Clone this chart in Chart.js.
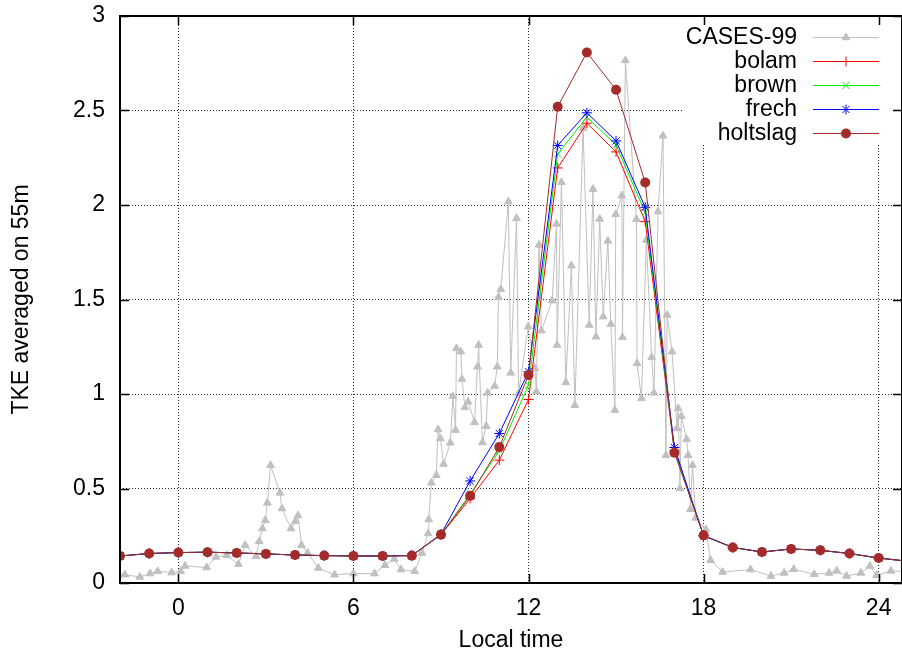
<!DOCTYPE html>
<html>
<head>
<meta charset="utf-8">
<script src="https://cdn.jsdelivr.net/npm/chart.js@4"></script>
<style>
  html, body { margin: 0; padding: 0; background: #fff; overflow: hidden; }
</style>
</head>
<body>
<canvas id="chart" width="902" height="658"></canvas>
<script>
// model output, one value per hour
const hours = [-2, -1, 0, 1, 2, 3, 4, 5, 6, 7, 8, 9, 10, 11, 12, 13, 14, 15, 16, 17, 18, 19, 20, 21, 22, 23, 24, 25]
const bolam = [0.143, 0.156, 0.161, 0.163, 0.159, 0.154, 0.148, 0.145, 0.143, 0.143, 0.145, 0.255, 0.447, 0.650, 0.971, 2.196, 2.433, 2.281, 1.912, 0.700, 0.250, 0.188, 0.164, 0.180, 0.173, 0.156, 0.132, 0.115]
const brown = [0.143, 0.156, 0.161, 0.163, 0.159, 0.154, 0.148, 0.145, 0.143, 0.143, 0.145, 0.256, 0.470, 0.700, 1.047, 2.270, 2.465, 2.318, 1.960, 0.705, 0.250, 0.188, 0.164, 0.180, 0.173, 0.156, 0.132, 0.115]
const frech = [0.143, 0.156, 0.161, 0.163, 0.159, 0.154, 0.148, 0.145, 0.143, 0.143, 0.145, 0.258, 0.540, 0.791, 1.118, 2.315, 2.488, 2.339, 1.988, 0.717, 0.250, 0.188, 0.164, 0.180, 0.173, 0.156, 0.132, 0.115]
const holtslag = [0.143, 0.156, 0.161, 0.163, 0.159, 0.154, 0.148, 0.145, 0.143, 0.143, 0.145, 0.256, 0.461, 0.719, 1.100, 2.520, 2.807, 2.610, 2.119, 0.689, 0.252, 0.188, 0.164, 0.180, 0.173, 0.156, 0.132, 0.115]

// CASES-99 observations
const casesTime = [-2.2, -1.83, -1.32, -0.97, -0.71, -0.23, 0.08, 0.23, 0.97, 1.29, 1.66, 2.06, 2.29, 2.66, 2.77, 2.88, 2.98, 3.05, 3.16, 3.48, 3.55, 3.86, 4.01, 4.10, 4.22, 4.43, 4.80, 5.35, 6.00, 6.72, 7.08, 7.40, 7.63, 8.10, 8.35, 8.56, 8.58, 8.67, 8.84, 8.90, 8.98, 9.09, 9.32, 9.41, 9.50, 9.53, 9.68, 9.72, 9.82, 9.93, 10.15, 10.25, 10.29, 10.42, 10.55, 10.60, 10.84, 10.93, 10.97, 11.05, 11.31, 11.39, 11.59, 11.66, 11.99, 12.22, 12.27, 12.36, 12.44, 12.81, 12.96, 12.98, 13.13, 13.28, 13.47, 13.59, 13.87, 14.08, 14.21, 14.31, 14.44, 14.56, 14.72, 14.82, 14.96, 14.99, 15.20, 15.22, 15.32, 15.70, 15.72, 15.87, 16.04, 16.22, 16.30, 16.44, 16.61, 16.71, 16.75, 16.92, 17.09, 17.13, 17.19, 17.24, 17.42, 17.47, 17.55, 17.62, 17.73, 18.08, 18.24, 18.65, 19.61, 20.31, 20.76, 21.09, 21.79, 22.30, 22.56, 22.90, 23.39, 23.70, 23.93, 24.42, 24.95]
const casesTke = [0.050, 0.044, 0.032, 0.050, 0.062, 0.055, 0.062, 0.090, 0.082, 0.138, 0.147, 0.099, 0.200, 0.141, 0.221, 0.288, 0.332, 0.424, 0.623, 0.477, 0.394, 0.288, 0.327, 0.357, 0.200, 0.159, 0.079, 0.044, 0.050, 0.050, 0.094, 0.127, 0.071, 0.062, 0.159, 0.262, 0.336, 0.530, 0.570, 0.812, 0.765, 0.629, 0.742, 0.989, 0.809, 1.241, 1.224, 1.079, 0.929, 0.959, 0.850, 1.144, 1.259, 0.744, 0.830, 1.006, 1.042, 1.144, 1.512, 1.554, 2.018, 1.112, 1.930, 1.003, 1.356, 1.136, 1.012, 1.789, 1.335, 1.494, 1.900, 1.259, 2.120, 1.061, 1.679, 0.941, 2.407, 1.365, 2.084, 1.303, 1.926, 1.409, 1.810, 1.370, 0.915, 1.951, 2.050, 1.300, 2.765, 1.925, 1.162, 0.977, 1.815, 1.194, 1.006, 1.965, 2.366, 0.676, 1.418, 1.224, 0.818, 0.924, 0.500, 0.883, 0.760, 0.676, 0.390, 0.623, 0.344, 0.283, 0.120, 0.058, 0.071, 0.037, 0.053, 0.073, 0.046, 0.053, 0.064, 0.037, 0.053, 0.090, 0.041, 0.064, 0.060]

const xTicks = [0, 6, 12, 18, 24]
const yTicks = [0, 0.5, 1, 1.5, 2, 2.5, 3]

const FONT = "'Liberation Sans', Arial, Helvetica, sans-serif"

function pts(xs, ys) {
  return xs.map((x, i) => ({ x, y: ys[i] }))
}

const series = [
  { label: 'CASES-99', x: casesTime, y: casesTke, color: 'rgb(192,192,192)', style: 'triangle', radius: 4.5 },
  { label: 'bolam', x: hours, y: bolam, color: 'rgb(255,0,0)', style: 'cross', radius: 5 },
  { label: 'brown', x: hours, y: brown, color: 'rgb(0,238,0)', style: 'crossRot', radius: 5 },
  { label: 'frech', x: hours, y: frech, color: 'rgb(0,0,255)', style: 'star', radius: 5 },
  { label: 'holtslag', x: hours, y: holtslag, color: 'rgb(165,42,42)', style: 'circle', radius: 5 }
]

const datasets = series.map((s, i) => ({
  label: s.label,
  data: pts(s.x, s.y),
  borderColor: s.color,
  backgroundColor: s.color,
  borderWidth: 1,
  pointStyle: s.style,
  pointRadius: s.radius,
  pointBorderWidth: s.style == 'circle' ? 0 : 1,
  pointBackgroundColor: s.color,
  pointBorderColor: s.color,
  tension: 0,
  order: series.length - i
}))

// white key box hides the grid, entries drawn on top
const keyPlugin = {
  id: 'key',
  beforeDatasetsDraw(chart) {
    const { ctx, chartArea: a } = chart
    ctx.save()
    ctx.fillStyle = '#fff'
    ctx.fillRect(a.right - 220, a.top + 1, 211, 128)
    ctx.restore()
  },
  afterDatasetsDraw(chart) {
    const { ctx, chartArea: a } = chart
    const textRight = a.right - 105
    const lineLeft = a.right - 89
    const lineRight = a.right - 23
    ctx.save()
    ctx.font = '23px ' + FONT
    ctx.textAlign = 'right'
    ctx.textBaseline = 'middle'
    series.forEach((s, i) => {
      const y = a.top + 21 + i * 24
      ctx.fillStyle = '#000'
      ctx.fillText(s.label, textRight, y + 1)
      ctx.strokeStyle = s.color
      ctx.fillStyle = s.color
      ctx.lineWidth = 1
      ctx.beginPath()
      ctx.moveTo(lineLeft, y + 0.5)
      ctx.lineTo(lineRight, y + 0.5)
      ctx.stroke()
      Chart.helpers.drawPoint(ctx, {
        pointStyle: s.style,
        radius: s.radius,
        rotation: 0,
        borderWidth: s.style == 'circle' ? 0 : 1
      }, (lineLeft + lineRight) / 2, y + 0.5)
    })
    ctx.restore()
  },
  afterDraw(chart) {
    const { ctx, chartArea: a, scales } = chart
    ctx.save()
    ctx.strokeStyle = '#000'
    ctx.lineWidth = 1.5
    const tick = 9
    ctx.beginPath()
    xTicks.forEach(v => {
      const px = Math.round(scales.x.getPixelForValue(v)) + 0.5
      ctx.moveTo(px, a.bottom)
      ctx.lineTo(px, a.bottom - tick)
      ctx.moveTo(px, a.top)
      ctx.lineTo(px, a.top + tick)
    })
    yTicks.forEach(v => {
      const py = Math.round(scales.y.getPixelForValue(v)) + 0.5
      ctx.moveTo(a.left, py)
      ctx.lineTo(a.left + tick, py)
      ctx.moveTo(a.right, py)
      ctx.lineTo(a.right - tick, py)
    })
    ctx.stroke()
    ctx.lineWidth = 2
    ctx.strokeRect(a.left, a.top, a.right - a.left, a.bottom - a.top)
    ctx.restore()
  }
}

const gridOpts = {
  color: 'rgba(0,0,0,0.85)',
  lineWidth: 1,
  drawTicks: false
}

new Chart(document.getElementById('chart').getContext('2d'), {
  type: 'line',
  data: { datasets },
  options: {
    responsive: false,
    animation: false,
    layout: { autoPadding: false, padding: { top: 16, right: 0, bottom: 0, left: 0 } },
    plugins: {
      legend: { display: false },
      tooltip: { enabled: false }
    },
    scales: {
      x: {
        type: 'linear',
        min: -2,
        max: 24.8,
        afterBuildTicks: s => { s.ticks = xTicks.map(value => ({ value })) },
        afterFit: s => { s.height = 75; s.paddingLeft = 0; s.paddingRight = 0 },
        grid: Object.assign({}, gridOpts),
        border: { display: false, dash: [1, 2] },
        ticks: { padding: 12, color: '#000', font: { family: FONT, size: 23 }, maxRotation: 0, autoSkip: false, callback: v => String(v) },
        title: { display: true, text: 'Local time', color: '#000', font: { family: FONT, size: 23 }, padding: { top: 0, bottom: 4 } }
      },
      y: {
        type: 'linear',
        min: 0,
        max: 3,
        afterBuildTicks: s => { s.ticks = yTicks.map(value => ({ value })) },
        afterFit: s => { s.width = 120; s.paddingTop = 0; s.paddingBottom = 0 },
        grid: Object.assign({}, gridOpts),
        border: { display: false, dash: [1, 2] },
        ticks: { padding: 15, color: '#000', font: { family: FONT, size: 23 }, callback: v => String(v) },
        title: { display: true, text: 'TKE averaged on 55m', color: '#000', font: { family: FONT, size: 23 }, padding: { top: 8, bottom: 0 } }
      }
    }
  },
  plugins: [keyPlugin]
})
</script>
</body>
</html>
